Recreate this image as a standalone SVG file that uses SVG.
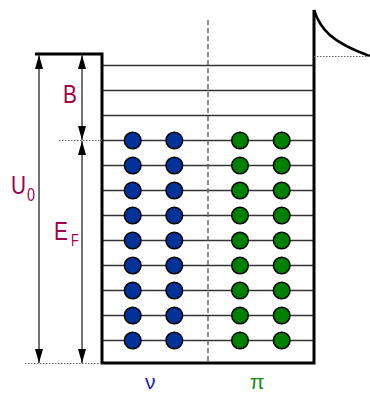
<svg xmlns="http://www.w3.org/2000/svg" width="370" height="394" viewBox="0 0 370 394">
<defs>
<style>
.wall{stroke:#000;stroke-width:3;fill:none}
.lvl{stroke:#333;stroke-width:1.5}
.arr{stroke:#444;stroke-width:1.5;fill:none}
.dot{stroke:#666;stroke-width:1;stroke-dasharray:1.5,1.5}
.nu{fill:#003399;stroke:#000;stroke-width:1.5}
.pi{fill:#008000;stroke:#000;stroke-width:1.5}
.lab{font-family:"Liberation Sans",Arial,sans-serif;fill:#a0004a}
</style>
<marker id="ah" viewBox="0 0 14 8" refX="14" refY="4" markerWidth="14" markerHeight="8" markerUnits="userSpaceOnUse" orient="auto-start-reverse">
<path d="M0,0 L14,4 L0,8 Z" fill="#000"/>
</marker>
</defs>
<rect width="370" height="394" fill="#fff"/>
<g id="levels">
<line class="lvl" x1="102" y1="65.5" x2="313" y2="65.5"/>
<line class="lvl" x1="102" y1="90.5" x2="313" y2="90.5"/>
<line class="lvl" x1="102" y1="115.5" x2="313" y2="115.5"/>
<line class="lvl" x1="102" y1="140.5" x2="313" y2="140.5"/>
<line class="lvl" x1="102" y1="165.5" x2="313" y2="165.5"/>
<line class="lvl" x1="102" y1="190.5" x2="313" y2="190.5"/>
<line class="lvl" x1="102" y1="215.5" x2="313" y2="215.5"/>
<line class="lvl" x1="102" y1="240.5" x2="313" y2="240.5"/>
<line class="lvl" x1="102" y1="265.5" x2="313" y2="265.5"/>
<line class="lvl" x1="102" y1="290.5" x2="313" y2="290.5"/>
<line class="lvl" x1="102" y1="315.5" x2="313" y2="315.5"/>
<line class="lvl" x1="102" y1="340.5" x2="313" y2="340.5"/>
</g>
<line x1="208" y1="20" x2="208" y2="363" stroke="#555" stroke-width="1.3" stroke-dasharray="5,3"/>
<g id="well">
<path class="wall" d="M35,54 H102 V363 H314 V10"/>
<path d="M314,10 C320,28 330,42 370,56" stroke="#000" stroke-width="2.5" fill="none"/>
</g>
<g id="guides">
<line class="dot" x1="314" y1="56.5" x2="370" y2="56.5"/>
<line class="dot" x1="59" y1="140.5" x2="102" y2="140.5"/>
<line class="dot" x1="25" y1="363.5" x2="102" y2="363.5"/>
</g>
<g id="arrows">
<line class="arr" x1="39" y1="55" x2="39" y2="363" marker-start="url(#ah)" marker-end="url(#ah)"/>
<line class="arr" x1="82" y1="55" x2="82" y2="140" marker-start="url(#ah)" marker-end="url(#ah)"/>
<line class="arr" x1="82" y1="141" x2="82" y2="363" marker-start="url(#ah)" marker-end="url(#ah)"/>
</g>
<g id="neutrons">
<circle class="nu" cx="132.7" cy="140.5" r="8.3"/><circle class="nu" cx="174.3" cy="140.5" r="8.3"/>
<circle class="nu" cx="132.7" cy="165.5" r="8.3"/><circle class="nu" cx="174.3" cy="165.5" r="8.3"/>
<circle class="nu" cx="132.7" cy="190.5" r="8.3"/><circle class="nu" cx="174.3" cy="190.5" r="8.3"/>
<circle class="nu" cx="132.7" cy="215.5" r="8.3"/><circle class="nu" cx="174.3" cy="215.5" r="8.3"/>
<circle class="nu" cx="132.7" cy="240.5" r="8.3"/><circle class="nu" cx="174.3" cy="240.5" r="8.3"/>
<circle class="nu" cx="132.7" cy="265.5" r="8.3"/><circle class="nu" cx="174.3" cy="265.5" r="8.3"/>
<circle class="nu" cx="132.7" cy="290.5" r="8.3"/><circle class="nu" cx="174.3" cy="290.5" r="8.3"/>
<circle class="nu" cx="132.7" cy="315.5" r="8.3"/><circle class="nu" cx="174.3" cy="315.5" r="8.3"/>
<circle class="nu" cx="132.7" cy="340.5" r="8.3"/><circle class="nu" cx="174.3" cy="340.5" r="8.3"/>
</g>
<g id="protons">
<circle class="pi" cx="240" cy="140.5" r="8.3"/><circle class="pi" cx="281.7" cy="140.5" r="8.3"/>
<circle class="pi" cx="240" cy="165.5" r="8.3"/><circle class="pi" cx="281.7" cy="165.5" r="8.3"/>
<circle class="pi" cx="240" cy="190.5" r="8.3"/><circle class="pi" cx="281.7" cy="190.5" r="8.3"/>
<circle class="pi" cx="240" cy="215.5" r="8.3"/><circle class="pi" cx="281.7" cy="215.5" r="8.3"/>
<circle class="pi" cx="240" cy="240.5" r="8.3"/><circle class="pi" cx="281.7" cy="240.5" r="8.3"/>
<circle class="pi" cx="240" cy="265.5" r="8.3"/><circle class="pi" cx="281.7" cy="265.5" r="8.3"/>
<circle class="pi" cx="240" cy="290.5" r="8.3"/><circle class="pi" cx="281.7" cy="290.5" r="8.3"/>
<circle class="pi" cx="240" cy="315.5" r="8.3"/><circle class="pi" cx="281.7" cy="315.5" r="8.3"/>
<circle class="pi" cx="240" cy="340.5" r="8.3"/><circle class="pi" cx="281.7" cy="340.5" r="8.3"/>
</g>
<g id="labels">
<text class="lab" font-size="26" transform="translate(63,103) scale(0.8,1)">B</text>
<text class="lab" font-size="26" transform="translate(11,194) scale(0.8,1)">U</text>
<text class="lab" font-size="18" transform="translate(27,201) scale(0.8,1)">0</text>
<text class="lab" font-size="26" transform="translate(54,240) scale(0.8,1)">E</text>
<text class="lab" font-size="16" transform="translate(71,246) scale(0.8,1)">F</text>
<text x="145" y="389" font-family="Liberation Sans,Arial,sans-serif" font-size="21" fill="#1c1ca8">ν</text>
<text x="250" y="389" font-family="Liberation Sans,Arial,sans-serif" font-size="21" fill="#1a8a1a">π</text>
</g>
</svg>
